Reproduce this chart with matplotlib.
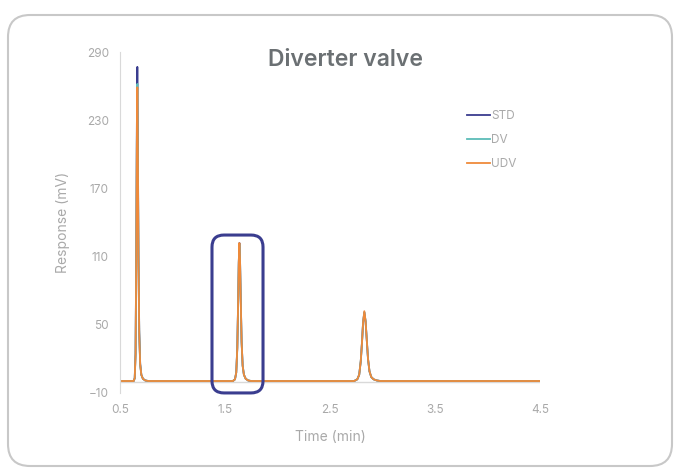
"""Cromatograma: comparacion STD / DV / UDV (diverter valve)."""
import matplotlib

matplotlib.use("Agg")

import matplotlib.pyplot as plt
from matplotlib.patches import FancyBboxPatch

plt.rcParams["font.family"] = ["Inter", "DejaVu Sans"]

# tiempos (min)
time = [
    0.50, 0.60,
    0.630, 0.640, 0.648, 0.655, 0.660, 0.665, 0.670, 0.676, 0.683, 0.692, 0.703, 0.718, 0.740, 0.770,
    1.20,
    1.575, 1.595, 1.607, 1.617, 1.625, 1.631, 1.637, 1.643, 1.650, 1.658, 1.668, 1.680, 1.697, 1.720, 1.750,
    2.20,
    2.730, 2.760, 2.778, 2.793, 2.805, 2.815, 2.827, 2.839, 2.850, 2.862, 2.876, 2.893, 2.915, 2.945, 2.980,
    3.50, 4.50,
]

# respuesta (mV)
std = [
    0.5, 0.5,
    0.5, 3, 25, 120, 220, 277, 210, 110, 45, 16, 6, 2.5, 1, 0.5,
    0.5,
    0.5, 2, 8, 30, 70, 105, 122, 108, 72, 35, 14, 6, 2.5, 1, 0.5,
    0.5,
    0.5, 2, 6, 18, 35, 52, 61, 53, 37, 20, 9, 4, 2, 1, 0.5,
    0.5, 0.5,
]
dv = [
    0.5, 0.5,
    0.5, 3, 24, 115, 210, 262, 200, 105, 43, 15, 6, 2.5, 1, 0.5,
    0.5,
    0.5, 2, 8, 29, 69, 104, 121, 107, 71, 35, 14, 6, 2.5, 1, 0.5,
    0.5,
    0.5, 2, 6, 18, 35, 52, 61, 53, 37, 20, 9, 4, 2, 1, 0.5,
    0.5, 0.5,
]
udv = [
    0.5, 0.5,
    0.5, 3, 24, 113, 206, 259, 197, 104, 42, 15, 6, 2.5, 1, 0.5,
    0.5,
    0.5, 2, 8, 30, 70, 105, 122, 107, 71, 35, 14, 6, 2.5, 1, 0.5,
    0.5,
    0.5, 2, 6, 18, 35, 52, 62, 53, 37, 20, 9, 4, 2, 1, 0.5,
    0.5, 0.5,
]

x_ticks = [0.5, 1.5, 2.5, 3.5, 4.5]
y_ticks = [-10, 50, 110, 170, 230, 290]

GRAY = "#a9a9a9"
NAVY = "#3a3d8f"

fig = plt.figure(figsize=(6.8, 4.74), dpi=100)
ax = fig.add_axes([0.1765, 0.171, 0.6176, 0.719])

ax.plot(time, std, color=NAVY, lw=1.3, label="STD")
ax.plot(time, dv, color="#5cbcb8", lw=1.3, label="DV")
ax.plot(time, udv, color="#ef8a3a", lw=1.3, label="UDV")
ax.axhline(0, color="#d9d9d9", lw=1, zorder=0)

ax.set_xlim(0.5, 4.5)
ax.set_ylim(-10, 290)
ax.set_xticks(x_ticks)
ax.set_xticklabels([f"{v:g}" for v in x_ticks])
ax.set_yticks(y_ticks)
ax.tick_params(length=0, labelsize=8.5, labelcolor=GRAY, pad=8)
for s in ["top", "right", "bottom"]:
    ax.spines[s].set_visible(False)
ax.spines["left"].set_color("#d9d9d9")

ax.set_xlabel("Time (min)", fontsize=10, color=GRAY, labelpad=10)
ax.set_ylabel("Response (mV)", fontsize=10, color=GRAY, labelpad=12)

leg = ax.legend(loc="upper left", bbox_to_anchor=(0.80, 0.86), frameon=False,
                fontsize=8.5, handlelength=2.0, handletextpad=0.1, labelspacing=1.0)
for t in leg.get_texts():
    t.set_color(GRAY)

# recuadro de realce alrededor del segundo pico
fig.canvas.draw()
px_x = 4.0 / (ax.get_window_extent().width)
px_y = 300.0 / (ax.get_window_extent().height)
box = FancyBboxPatch((1.376, -10), 1.862 - 1.376, 139,
                     boxstyle=f"round,pad=0,rounding_size={12 * px_x}",
                     mutation_aspect=px_y / px_x,
                     fill=False, edgecolor=NAVY, lw=2.2, clip_on=False, zorder=5)
ax.add_patch(box)

fig.text(345 / 680, 1 - 60 / 474, "Diverter valve", ha="center", va="center",
         fontsize=16.5, fontweight="semibold", color="#6b7073")

# marco redondeado de la figura
frame = FancyBboxPatch((8 / 680, 8 / 474), 664 / 680, 451 / 474,
                       boxstyle=f"round,pad=0,rounding_size={22 / 680}",
                       mutation_aspect=680 / 474,
                       transform=fig.transFigure, fill=False,
                       edgecolor="#c8c8c8", lw=1.5)
fig.patches.append(frame)

fig.savefig("out.png", dpi=100)
